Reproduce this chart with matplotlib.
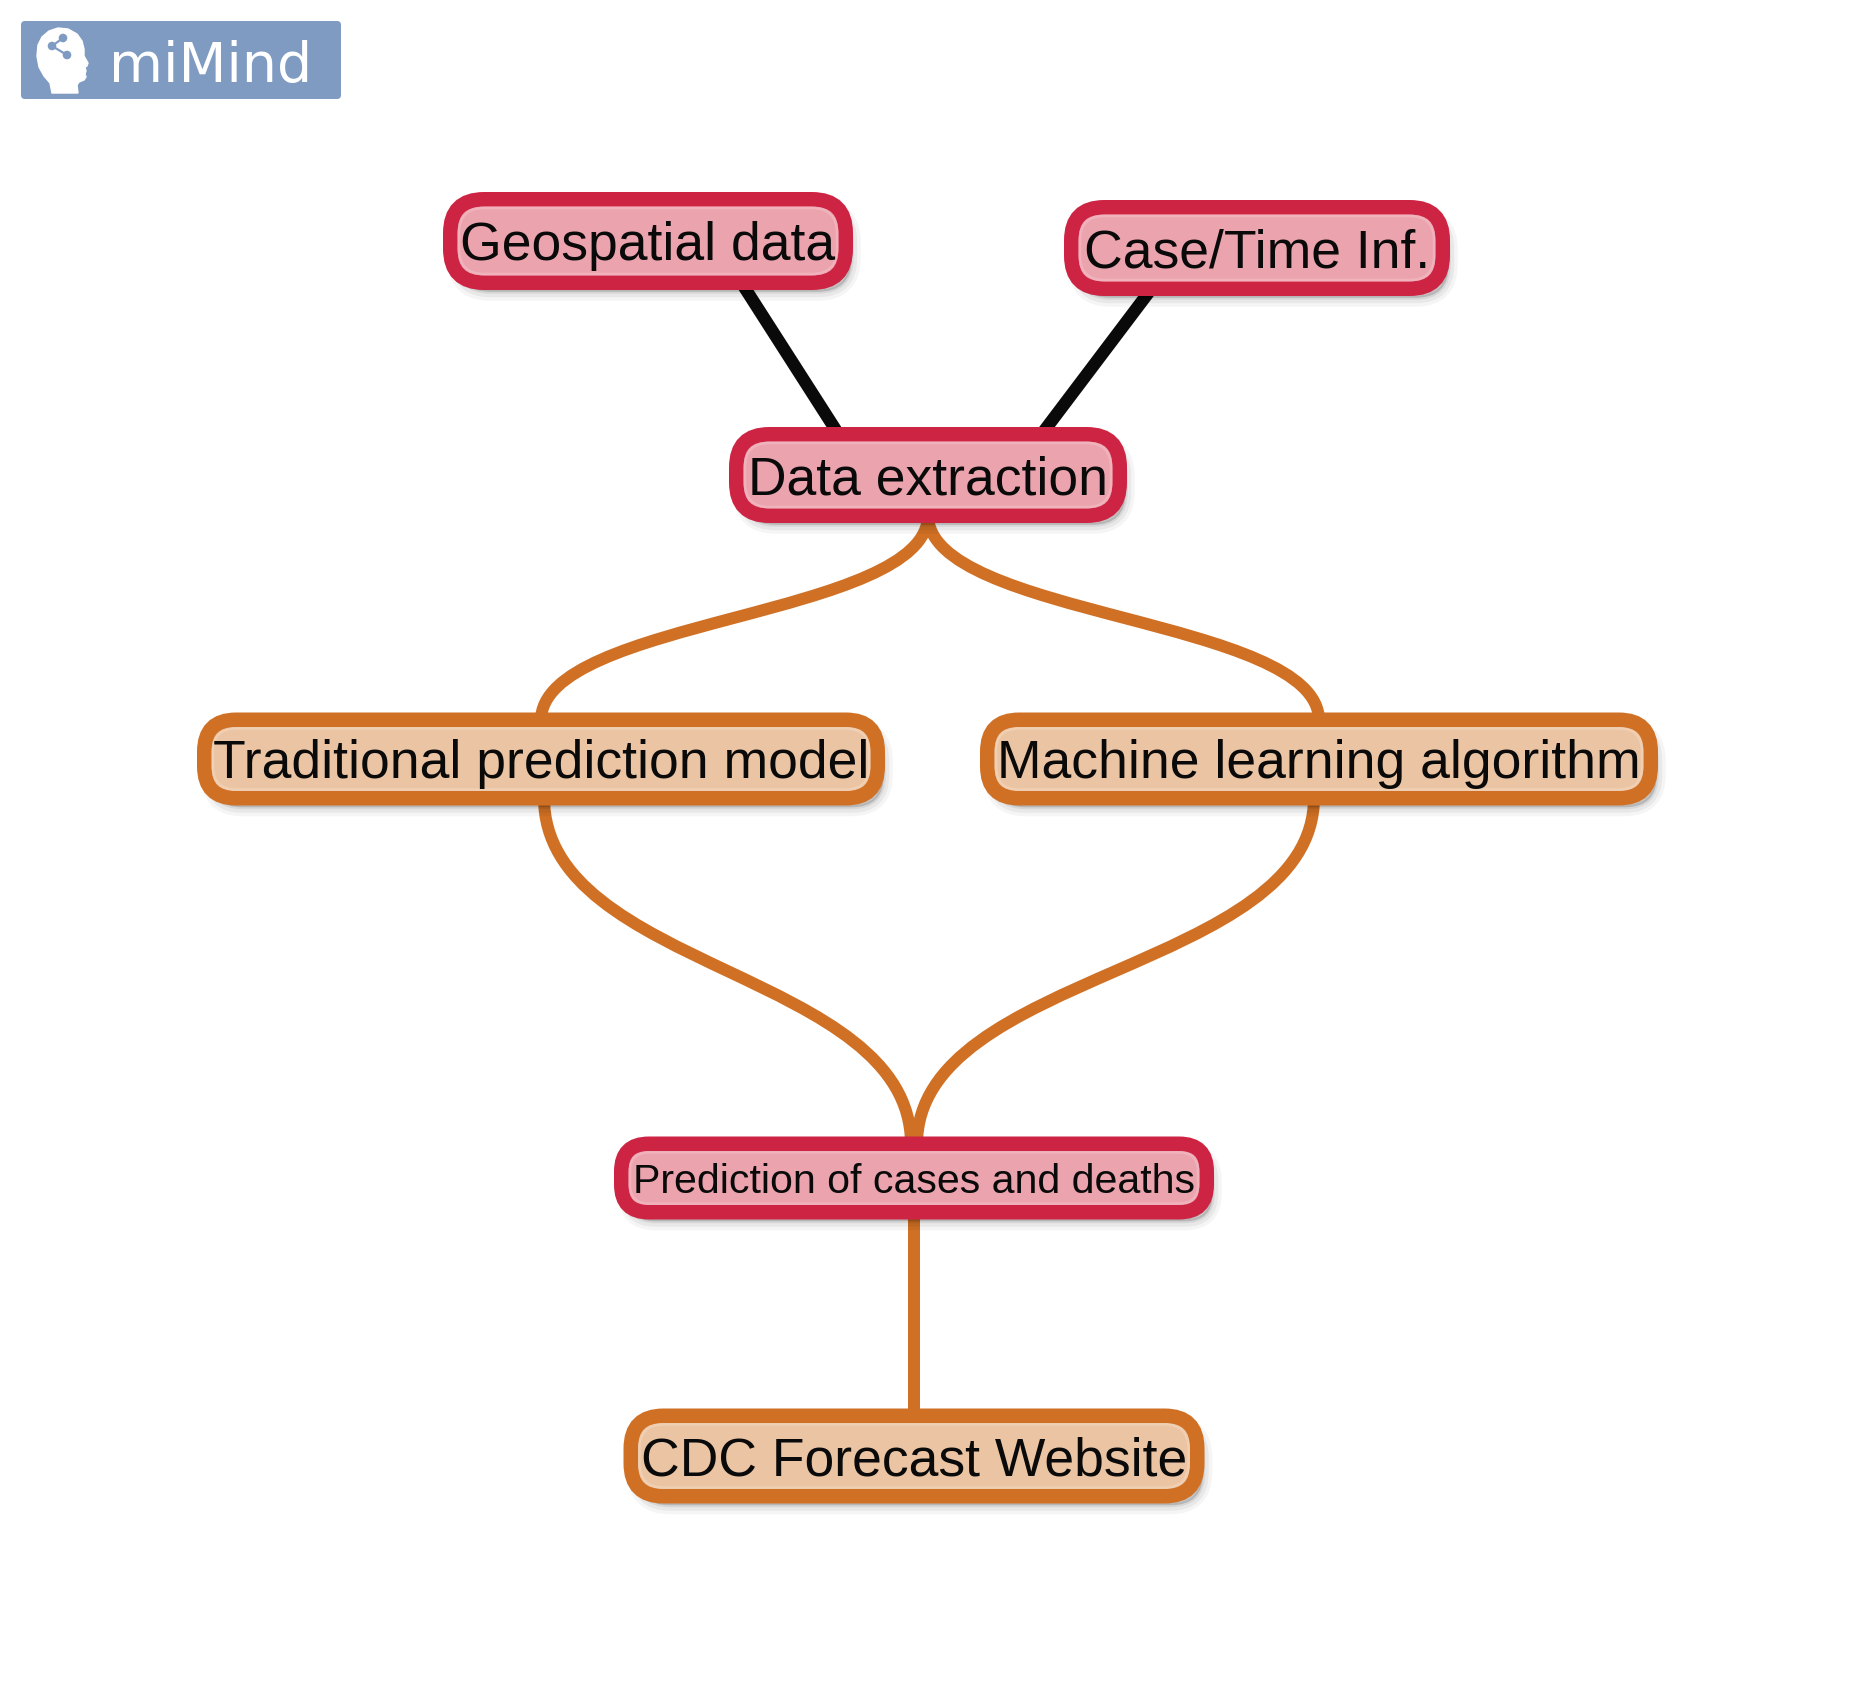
import matplotlib
matplotlib.use("Agg")
import matplotlib.pyplot as plt
from matplotlib.patches import FancyBboxPatch, PathPatch, Polygon, Circle
from matplotlib.path import Path

# --- nodes (pixel coords of the original picture, y downward) ---
labels = ["Geospatial data", "Case/Time Inf.", "Data extraction",
          "Traditional prediction model", "Machine learning algorithm",
          "Prediction of cases and deaths", "CDC Forecast Website"]
node_x = [648, 1257, 928, 541, 1319, 914, 914]
node_y = [241, 248, 475, 759, 759, 1178, 1456]
node_w = [410, 386, 398, 688, 678, 600, 581]
node_h = [98, 96, 96, 93, 93, 83, 95]
node_kind = ["red", "red", "red", "orange", "orange", "red", "orange"]
font_pt = [38.5, 38.5, 38.5, 38.5, 38.5, 29.6, 38.5]

# --- edges: parent -> child ---
edge_from = [0, 1, 2, 2, 3, 4, 5]
edge_to = [2, 2, 3, 4, 5, 5, 6]
edge_color = ["black", "black", "orange", "orange", "orange", "orange", "orange"]
edge_dx0 = [93, -105, 0, 0, 3, -5, 0]
edge_dx1 = [-89, 113, 0, 0, -3, 3, 0]
edge_tension = [0.12, 0.08, 0.5, 0.5, 0.5, 0.5, 0.5]

colors = {
    "red": ("#CE2444", "#EBA3AE", "#F0B3BC"),
    "orange": ("#D07024", "#EBC4A3", "#F0CFB3"),
    "black": ("#0A0A0A", None, None),
}

W, H = 1851, 1696
PX = 72 / 100  # points per pixel

fig = plt.figure(figsize=(W / 100, H / 100), dpi=100)
ax = fig.add_axes([0, 0, 1, 1])
ax.set_xlim(0, W)
ax.set_ylim(H, 0)
ax.axis("off")

# --- edges ---
for i in range(len(edge_from)):
    a, b = edge_from[i], edge_to[i]
    x0 = node_x[a] + edge_dx0[i]
    y0 = node_y[a] + node_h[a] / 2 - 8
    x3 = node_x[b] + edge_dx1[i]
    y3 = node_y[b] - node_h[b] / 2 + 8
    dy = y3 - y0
    t = edge_tension[i]
    if t < 0.3:
        # almost straight
        p1 = (x0 + (x3 - x0) * 0.3, y0 + dy * 0.3)
        p2 = (x0 + (x3 - x0) * 0.7, y0 + dy * 0.7)
    else:
        p1 = (x0, y0 + t * dy)
        p2 = (x3, y3 - t * dy)
    path = Path([(x0, y0), p1, p2, (x3, y3)],
                [Path.MOVETO, Path.CURVE4, Path.CURVE4, Path.CURVE4])
    lw = 12.5 if edge_color[i] == "black" else 12
    ax.add_patch(PathPatch(path, fill=False, edgecolor=colors[edge_color[i]][0],
                           linewidth=lw * PX, capstyle="butt", zorder=1))

# --- nodes ---
border = 14.5
for i, lab in enumerate(labels):
    edge_c, fill_c, rim_c = colors[node_kind[i]]
    w, h = node_w[i], node_h[i]
    x0 = node_x[i] - w / 2
    y0 = node_y[i] - h / 2
    r = 0.42 * h

    # soft shadow
    for lw, al in [(18, 0.04), (11, 0.05), (4, 0.07)]:
        sh = FancyBboxPatch((x0 + 6 + border / 2, y0 + 9 + border / 2),
                            w - border, h - border,
                            boxstyle=f"round,pad=0,rounding_size={r - border / 2}",
                            facecolor=(0, 0, 0, al), edgecolor=(0, 0, 0, al),
                            linewidth=lw * PX, zorder=2)
        ax.add_patch(sh)

    box = FancyBboxPatch((x0 + border / 2, y0 + border / 2), w - border, h - border,
                         boxstyle=f"round,pad=0,rounding_size={r - border / 2}",
                         facecolor=fill_c, edgecolor=edge_c,
                         linewidth=border * PX, zorder=3)
    ax.add_patch(box)
    rim = FancyBboxPatch((x0 + border + 1.5, y0 + border + 1.5), w - 2 * border - 3,
                         h - 2 * border - 3,
                         boxstyle=f"round,pad=0,rounding_size={r - border - 1.5}",
                         facecolor="none", edgecolor=rim_c,
                         linewidth=2.5 * PX, zorder=4)
    ax.add_patch(rim)

    em = font_pt[i] / PX
    ax.text(node_x[i], node_y[i] + 0.716 * em / 2, lab, fontsize=font_pt[i],
            family="Liberation Sans", color="#0A0A0A", ha="center", va="baseline",
            zorder=5)

# --- logo ---
logo = FancyBboxPatch((21, 21), 320, 78, boxstyle="round,pad=0,rounding_size=4",
                      facecolor="#7F9BC2", edgecolor="none", zorder=2)
ax.add_patch(logo)
head = [(52, 93), (50, 83), (44, 76), (39, 67), (37, 56), (38, 45), (42, 37),
        (49, 31), (58, 28), (68, 29), (77, 34), (82, 41), (84, 49), (84, 56),
        (88, 63), (87, 66), (85, 67), (86, 71), (85, 74), (86, 77), (84, 80),
        (79, 82), (77, 85), (78, 93)]
ax.add_patch(Polygon(head, closed=True, facecolor="white", edgecolor="white",
                     linewidth=1, zorder=3))
dots = [(52, 46), (63, 38), (67, 55)]
ax.plot([dots[1][0], dots[0][0], dots[2][0]], [dots[1][1], dots[0][1], dots[2][1]],
        color="#7F9BC2", linewidth=2.2 * PX, zorder=4)
for d in dots:
    ax.add_patch(Circle(d, 4.3, facecolor="#7F9BC2", edgecolor="none", zorder=4))
ax.text(109, 82, "miMind", fontsize=40, family="DejaVu Sans", color="white",
        ha="left", va="baseline", zorder=4)

fig.savefig("out.png", dpi=100, facecolor="white")
